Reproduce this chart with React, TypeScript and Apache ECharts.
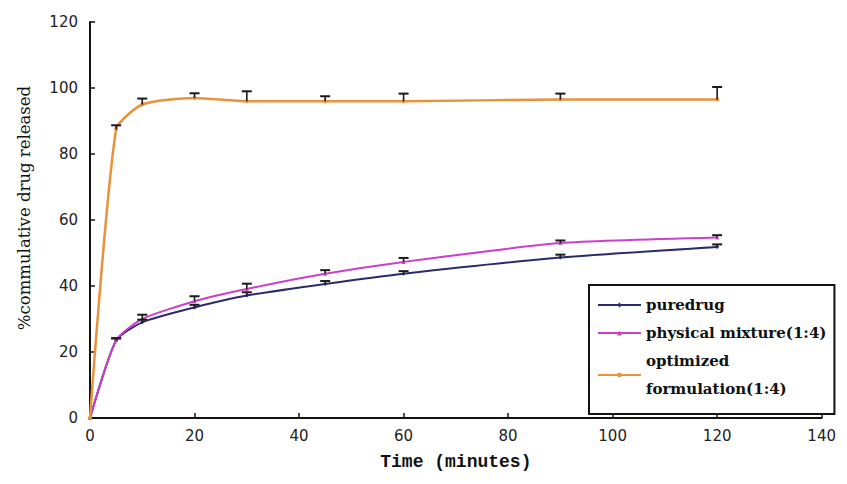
import React, { useEffect, useRef } from "react";
import * as echarts from "echarts";

const timePoints = [0, 5, 10, 20, 30, 45, 60, 90, 120];
const pureDrug = [0, 23.5, 29.0, 33.5, 37.1, 40.6, 43.7, 48.6, 51.8];
const pureDrugErr = [0, 0.6, 0.8, 0.8, 1.0, 0.9, 0.8, 0.9, 0.8];
const physicalMixture = [0, 23.6, 30.0, 35.4, 39.1, 43.7, 47.3, 53.0, 54.7];
const physicalMixtureErr = [0, 0.6, 1.3, 1.5, 1.6, 1.1, 1.2, 0.8, 0.7];
const optimized = [0, 87.5, 95.0, 97.0, 96.0, 96.0, 96.0, 96.5, 96.5];
const optimizedErr = [0, 1.2, 1.8, 1.4, 3.0, 1.5, 2.3, 1.8, 3.8];

const seriesNames = ["puredrug", "physical mixture(1:4)", "optimized formulation(1:4)"];
const xTicks = { min: 0, max: 140, interval: 20 };
const yTicks = { min: 0, max: 120, interval: 20 };

const toPairs = (vals: number[]) => timePoints.map((t, i) => [t, vals[i]]);
const toErr = (vals: number[], errs: number[]) =>
  timePoints.map((t, i) => [t, vals[i], errs[i]]).filter((d) => d[2] > 0);

const errorRender = (params: any, api: any) => {
  const x = api.value(0);
  const y = api.value(1);
  const e = api.value(2);
  const p0 = api.coord([x, y]);
  const p1 = api.coord([x, y + e]);
  const st = { stroke: "#1a1a1a", lineWidth: 1.6 };
  return {
    type: "group",
    children: [
      { type: "line", shape: { x1: p0[0], y1: p0[1], x2: p1[0], y2: p1[1] }, style: st },
      { type: "line", shape: { x1: p1[0] - 5, y1: p1[1], x2: p1[0] + 5, y2: p1[1] }, style: { ...st, lineWidth: 2 } },
    ],
  };
};

export default function App() {
  const ref = useRef<HTMLDivElement>(null);
  useEffect(() => {
    if (!ref.current) return;
    const chart = echarts.init(ref.current, undefined, { renderer: "svg" });
    const colors = ["#2b2b6b", "#cc3fcc", "#e8923a"];
    const lineData = [pureDrug, physicalMixture, optimized];
    const errData = [
      toErr(pureDrug, pureDrugErr),
      toErr(physicalMixture, physicalMixtureErr),
      toErr(optimized, optimizedErr),
    ];
    const symbols = ["diamond", "triangle", "circle"];
    chart.setOption({
      animation: false,
      backgroundColor: "#ffffff",
      grid: { left: 78, right: 13, top: 14, bottom: 50, containLabel: false },
      legend: {
        data: seriesNames,
        orient: "vertical",
        left: 581,
        top: 277,
        padding: [6, 8, 11, 8],
        itemGap: 0,
        itemWidth: 43,
        itemHeight: 6,
        borderColor: "#111",
        borderWidth: 2,
        backgroundColor: "#fff",
        textStyle: { fontFamily: "DejaVu Serif", fontSize: 15, fontWeight: "bold", color: "#111", lineHeight: 28 },
        formatter: (name: string) =>
          name === "optimized formulation(1:4)" ? "optimized\nformulation(1:4)" : name,
      },
      xAxis: {
        type: "value",
        min: xTicks.min,
        max: xTicks.max,
        interval: xTicks.interval,
        name: "Time (minutes)",
        nameLocation: "middle",
        nameGap: 35,
        nameTextStyle: { fontFamily: "Liberation Mono", fontSize: 18, fontWeight: "bold", color: "#111" },
        axisLine: { lineStyle: { color: "#111", width: 2 } },
        axisTick: { inside: true, length: 5, lineStyle: { color: "#111", width: 1.5 } },
        axisLabel: { fontFamily: "DejaVu Sans", fontSize: 15, color: "#222", margin: 10 },
        splitLine: { show: false },
      },
      yAxis: {
        type: "value",
        min: yTicks.min,
        max: yTicks.max,
        interval: yTicks.interval,
        name: "%commulative drug released",
        nameLocation: "middle",
        nameGap: 57,
        nameTextStyle: { fontFamily: "DejaVu Serif", fontSize: 16.5, color: "#111", padding: [0, 0, 0, 24] },
        axisLine: { show: true, lineStyle: { color: "#111", width: 2 } },
        axisTick: { show: true, inside: true, length: 5, lineStyle: { color: "#111", width: 1.5 } },
        axisLabel: { fontFamily: "DejaVu Sans", fontSize: 15, color: "#222", margin: 12 },
        splitLine: { show: false },
      },
      series: [
        ...seriesNames.map((name, i) => ({
          name,
          type: "line",
          data: toPairs(lineData[i]),
          smooth: 0.2,
          symbol: symbols[i],
          symbolSize: 4,
          showSymbol: true,
          itemStyle: { color: colors[i] },
          lineStyle: { color: colors[i], width: i === 2 ? 2.5 : 2 },
          z: 2 + i,
        })),
        ...seriesNames.map((name, i) => ({
          name: name + " error",
          type: "custom",
          renderItem: errorRender,
          data: errData[i],
          encode: { x: 0, y: [1, 2] },
          z: 10,
          silent: true,
        })),
      ],
    });
    return () => chart.dispose();
  }, []);
  return <div ref={ref} style={{ width: 831, height: 468 }} />;
}
